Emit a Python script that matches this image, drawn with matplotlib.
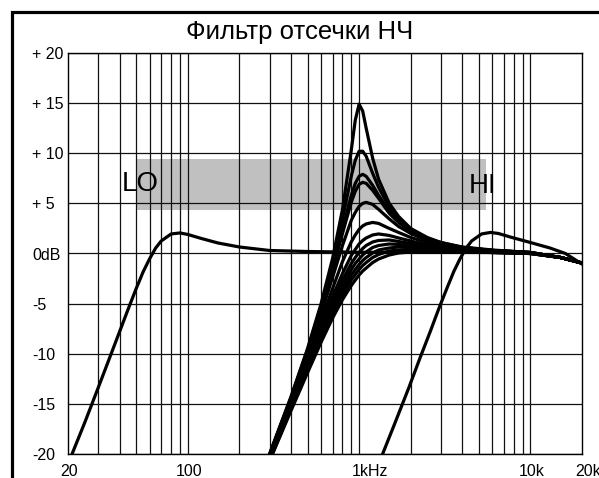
import numpy as np
import matplotlib.pyplot as plt
from matplotlib.patches import Rectangle
from matplotlib import transforms

plt.rcParams['font.family'] = ['Liberation Sans', 'DejaVu Sans']

# --- data ---
title = 'Фильтр отсечки НЧ'

y_ticks = [-20, -15, -10, -5, 0, 5, 10, 15, 20]
y_labels = ['-20', '-15', '-10', '-5', '0dB', '+ 5', '+ 10', '+ 15', '+ 20']

x_grid = [30, 40, 50, 60, 70, 80, 90, 100, 200, 300, 400, 500, 600, 700, 800, 900,
          1000, 2000, 3000, 4000, 5000, 6000, 7000, 8000, 9000, 10000]
x_label_freq = [20, 100, 1000, 10000, 20000]
x_labels = ['20', '100', '1kHz', '10k', '20k']

# low cut curve (LO)
lo_freq = [20, 25, 30, 35, 40, 45, 50, 55, 60, 65, 70, 80, 90, 100, 120, 150, 200,
           300, 500, 1000, 3000, 6000, 10000, 15000, 20000]
lo_db = [-21.0, -16.9, -13.4, -10.4, -7.8, -5.5, -3.5, -1.8, -0.5, 0.55, 1.25, 1.95,
         2.05, 1.9, 1.5, 1.05, 0.65, 0.3, 0.2, 0.12, 0.12, 0.1, 0.0, -0.4, -0.95]

# high cut curve (HI)
hi_freq = [1300, 1620, 1950, 2270, 2600, 2920, 3250, 3570, 3890, 4220, 4540, 5190,
           5840, 6490, 7790, 9740, 13000, 16000, 20000]
hi_db = [-21.0, -16.9, -13.4, -10.4, -7.8, -5.5, -3.5, -1.8, -0.5, 0.55, 1.25, 1.95,
         2.1, 2.0, 1.6, 1.15, 0.55, 0.0, -1.05]

# family of curves around 1 kHz (different resonance)
fam_freq = [300, 400, 500, 600, 700, 800, 900, 950, 1000, 1050, 1100, 1200, 1300,
            1500, 1700, 2000, 2500, 3000, 4000, 6000, 10000, 15000, 20000]
fam_db = [
    [-20.0, -14.3, -9.5, -5.0, -0.5, 4.4, 10.3, 13.3, 14.9, 14.2, 12.5, 9.5, 7.4,
     5.0, 3.7, 2.5, 1.6, 1.1, 0.65, 0.35, 0.1, -0.4, -0.95],
    [-20.1, -14.4, -9.6, -5.3, -1.0, 3.4, 7.7, 9.3, 10.2, 10.2, 9.7, 8.0, 6.6,
     4.6, 3.5, 2.4, 1.5, 1.1, 0.6, 0.3, 0.1, -0.4, -0.95],
    [-20.1, -14.5, -9.8, -5.5, -1.5, 2.4, 5.8, 7.0, 7.7, 7.9, 7.7, 6.8, 5.8,
     4.2, 3.2, 2.3, 1.45, 1.0, 0.6, 0.3, 0.1, -0.4, -0.95],
    [-20.1, -14.5, -9.8, -5.6, -1.7, 2.0, 5.1, 6.2, 6.9, 7.1, 7.0, 6.3, 5.5,
     4.0, 3.1, 2.2, 1.4, 1.0, 0.6, 0.3, 0.1, -0.4, -0.95],
    [-20.2, -14.6, -10.1, -6.0, -2.4, 0.8, 3.3, 4.1, 4.7, 5.0, 5.1, 4.9, 4.4,
     3.45, 2.7, 2.0, 1.3, 0.9, 0.55, 0.3, 0.1, -0.4, -0.95],
    [-20.3, -14.85, -10.5, -6.7, -3.5, -0.8, 1.15, 1.85, 2.4, 2.75, 2.95, 3.1, 3.0,
     2.5, 2.1, 1.6, 1.1, 0.8, 0.5, 0.25, 0.05, -0.4, -0.95],
    [-20.4, -15.05, -10.8, -7.3, -4.3, -2.0, -0.2, 0.4, 0.95, 1.3, 1.55, 1.85, 1.95,
     1.8, 1.55, 1.25, 0.85, 0.65, 0.4, 0.2, 0.05, -0.4, -0.95],
    [-20.45, -15.2, -11.0, -7.6, -4.85, -2.65, -1.0, -0.4, 0.1, 0.5, 0.8, 1.15, 1.3,
     1.35, 1.2, 1.0, 0.75, 0.55, 0.35, 0.2, 0.05, -0.4, -0.95],
    [-20.5, -15.3, -11.25, -7.95, -5.25, -3.15, -1.6, -1.0, -0.55, -0.15, 0.15, 0.6, 0.8,
     0.95, 0.9, 0.8, 0.6, 0.45, 0.3, 0.15, 0.05, -0.4, -0.95],
    [-20.6, -15.45, -11.45, -8.25, -5.7, -3.65, -2.15, -1.6, -1.1, -0.7, -0.4, 0.05, 0.35,
     0.55, 0.65, 0.6, 0.5, 0.4, 0.25, 0.15, 0.0, -0.4, -0.95],
    [-20.65, -15.55, -11.65, -8.5, -6.05, -4.1, -2.65, -2.1, -1.6, -1.2, -0.9, -0.4, -0.1,
     0.25, 0.35, 0.4, 0.35, 0.3, 0.2, 0.1, 0.0, -0.4, -0.95],
    [-20.7, -15.7, -11.9, -8.85, -6.45, -4.6, -3.2, -2.65, -2.15, -1.75, -1.45, -0.9, -0.55,
     -0.15, 0.05, 0.15, 0.2, 0.2, 0.15, 0.1, 0.0, -0.4, -0.95],
]

# shaded LO..HI band
band_f = (50.5, 5510)
band_db = (4.3, 9.45)

# --- figure ---
W, H = 599, 478
fig = plt.figure(figsize=(W / 100, H / 100), dpi=100)
ax = fig.add_axes([68 / W, 1 - 454 / H, 514 / W, 401 / H])

ax.set_xscale('log')
ax.set_xlim(20, 20000)
ax.set_ylim(-20, 20)

ax.add_patch(Rectangle((band_f[0], band_db[0]), band_f[1] - band_f[0],
                       band_db[1] - band_db[0], facecolor='#c0c0c0',
                       edgecolor='none', zorder=0.3))

ax.set_xticks(x_grid)
ax.set_xticks([], minor=True)
ax.set_xticklabels([])
ax.set_yticks(y_ticks)
ax.set_yticklabels(y_labels, fontsize=11.5)
for lab in ax.get_yticklabels():
    lab.set_horizontalalignment('left')
ax.tick_params(axis='both', length=0)
ax.tick_params(axis='y', pad=26)
ax.set_axisbelow(True)
ax.grid(True, color='#111111', lw=0.9)
for sp in ax.spines.values():
    sp.set_linewidth(1.0)
    sp.set_color('black')

# curves
ax.plot(lo_freq, lo_db, color='black', lw=2.3, zorder=3)
ax.plot(hi_freq, hi_db, color='black', lw=2.3, zorder=3)
for vals in fam_db:
    ax.plot(fam_freq, vals, color='black', lw=2.3, zorder=3)

# x labels
bl = transforms.blended_transform_factory(ax.transData, ax.transAxes)
for f, s in zip(x_label_freq, x_labels):
    if s == '1kHz':
        dx, ha = -5.4, 'left'
    elif s == '20k':
        dx, ha = -5.0, 'left'
    else:
        dx, ha = 1, 'center'
    tr = transforms.offset_copy(bl, fig=fig, x=dx, y=-15.5, units='points')
    ax.text(f, 0, s, transform=tr, ha=ha, va='baseline', fontsize=11.5, clip_on=False)

# band labels
ax.text(band_f[0], 6.95, 'LO', ha='center', va='center', fontsize=20,
        transform=transforms.offset_copy(ax.transData, fig=fig, x=2.5, y=0, units='points'))
ax.text(band_f[1], 6.7, 'HI', ha='center', va='center', fontsize=20,
        transform=transforms.offset_copy(ax.transData, fig=fig, x=-2.5, y=0, units='points'))

fig.text(0.5, 1 - 32 / H, title, ha='center', va='center', fontsize=18.5)

# outer frame
fig.add_artist(Rectangle((12 / W, -0.2), 1.2, 1 - 12 / H + 0.2, transform=fig.transFigure,
                         fill=False, edgecolor='black', lw=2.3))

fig.savefig('out.png', dpi=100)
